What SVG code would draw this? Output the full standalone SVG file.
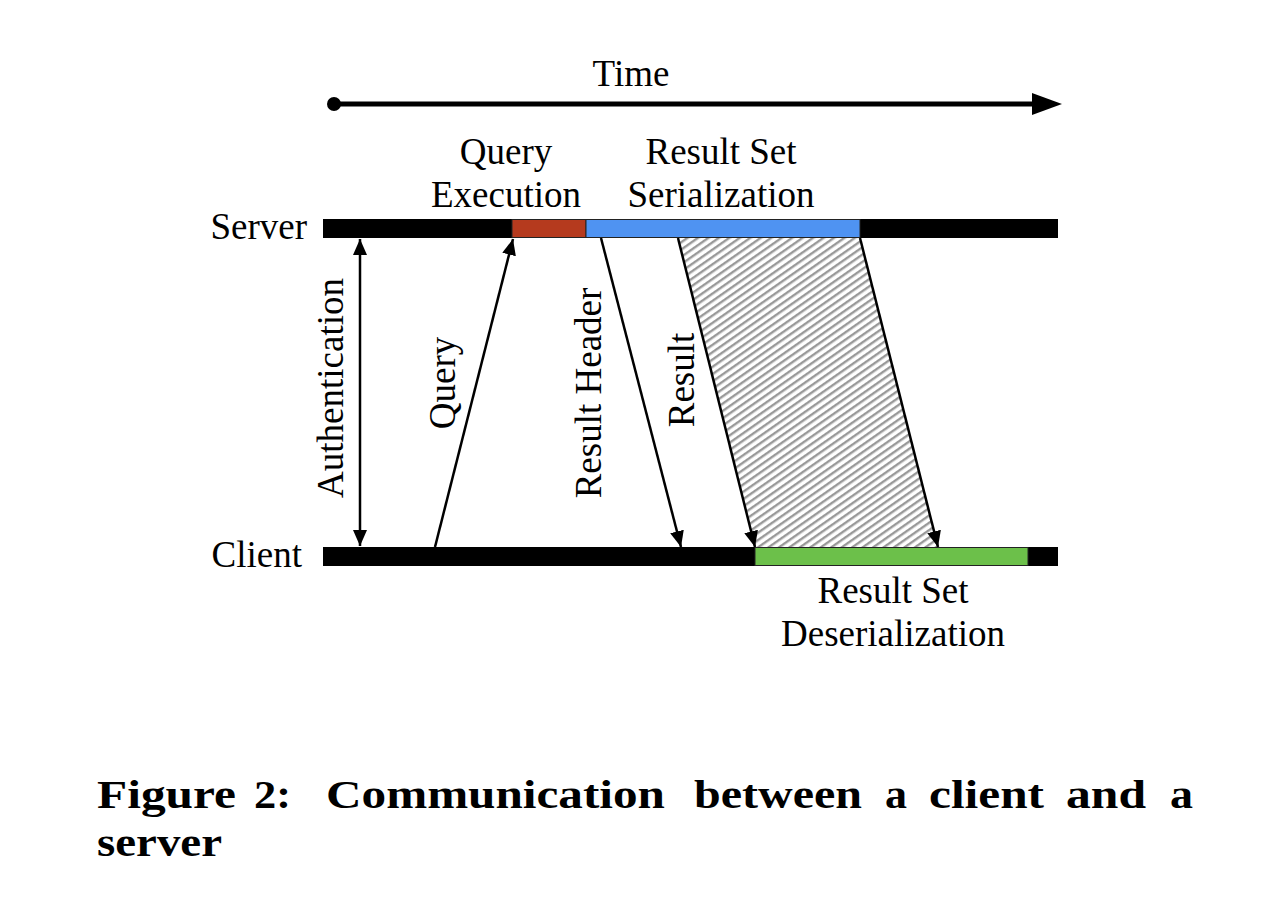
<svg xmlns="http://www.w3.org/2000/svg" width="1270" height="898" viewBox="0 0 1270 898">
<style>
.t{font-family:"Liberation Serif","Times New Roman",serif;font-size:37px;fill:#000}
.c{font-family:"Liberation Serif","Times New Roman",serif;font-size:39px;font-weight:bold;fill:#000}
.ln{stroke:#000;stroke-width:2.5;fill:none}
</style>
<defs>
<marker id="ah" viewBox="0 0 16 14" refX="16" refY="7" markerWidth="16" markerHeight="14" markerUnits="userSpaceOnUse" orient="auto-start-reverse">
<path d="M0,0 L16,7 L0,14 Z" fill="#000"/>
</marker>
<pattern id="hatch" width="6" height="6" patternUnits="userSpaceOnUse" patternTransform="rotate(-35)">
<rect width="6" height="6" fill="#fff"/>
<rect y="0" width="6" height="2.4" fill="#999"/>
</pattern>
</defs>
<rect width="1270" height="898" fill="#fff"/>

<g id="time">
<circle cx="334" cy="104" r="7" fill="#000"/>
<line x1="334" y1="104" x2="1036" y2="104" stroke="#000" stroke-width="5"/>
<path d="M1032,93 L1062,104 L1032,115 Z" fill="#000"/>
<text class="t" x="631" y="86" text-anchor="middle">Time</text>
</g>

<g id="server">
<rect x="323" y="219" width="735" height="19" fill="#000"/>
<rect x="512" y="219.5" width="74" height="18" fill="#b53a1e" stroke="#222" stroke-width="1"/>
<rect x="586" y="219.5" width="274" height="18" fill="#4f93f2" stroke="#222" stroke-width="1"/>
<text class="t" x="307" y="239" text-anchor="end">Server</text>
</g>

<g id="client">
<rect x="323" y="547" width="735" height="19" fill="#000"/>
<rect x="755" y="547.5" width="273" height="18" fill="#6cc04a" stroke="#222" stroke-width="1"/>
<text class="t" x="302" y="567" text-anchor="end">Client</text>
</g>

<g id="query-execution">
<text class="t" x="506" y="164" text-anchor="middle">Query</text>
<text class="t" x="506" y="207" text-anchor="middle">Execution</text>
</g>

<g id="serialization">
<text class="t" x="721" y="164" text-anchor="middle">Result Set</text>
<text class="t" x="721" y="207" text-anchor="middle">Serialization</text>
</g>

<g id="deserialization">
<text class="t" x="893" y="603" text-anchor="middle">Result Set</text>
<text class="t" x="893" y="646" text-anchor="middle">Deserialization</text>
</g>

<g id="result-band">
<polygon points="678,238 860,238 938,547 755,547" fill="url(#hatch)"/>
</g>

<g id="connectors">
<line class="ln" x1="360" y1="239" x2="360" y2="546" marker-start="url(#ah)" marker-end="url(#ah)"/>
<line class="ln" x1="435" y1="547" x2="513" y2="239" marker-end="url(#ah)"/>
<line class="ln" x1="601" y1="238" x2="681" y2="547" marker-end="url(#ah)"/>
<line class="ln" x1="678" y1="238" x2="755" y2="547" marker-end="url(#ah)"/>
<line class="ln" x1="860" y1="238" x2="938" y2="547" marker-end="url(#ah)"/>
</g>

<g id="labels">
<text class="t" transform="translate(343,388) rotate(-90)" text-anchor="middle">Authentication</text>
<text class="t" transform="translate(455,383) rotate(-90)" text-anchor="middle">Query</text>
<text class="t" transform="translate(601,393) rotate(-90)" text-anchor="middle">Result Header</text>
<text class="t" transform="translate(694,380) rotate(-90)" text-anchor="middle">Result</text>
</g>

<g id="caption">
<text class="c" x="97" y="808" textLength="139" lengthAdjust="spacingAndGlyphs">Figure</text>
<text class="c" x="254" y="808" textLength="37" lengthAdjust="spacingAndGlyphs">2:</text>
<text class="c" x="326" y="808" textLength="339" lengthAdjust="spacingAndGlyphs">Communication</text>
<text class="c" x="694" y="808" textLength="168" lengthAdjust="spacingAndGlyphs">between</text>
<text class="c" x="885" y="808" textLength="22" lengthAdjust="spacingAndGlyphs">a</text>
<text class="c" x="929" y="808" textLength="115" lengthAdjust="spacingAndGlyphs">client</text>
<text class="c" x="1066" y="808" textLength="80" lengthAdjust="spacingAndGlyphs">and</text>
<text class="c" x="1170" y="808" textLength="23" lengthAdjust="spacingAndGlyphs">a</text>
<text class="c" x="97" y="856" textLength="125" lengthAdjust="spacingAndGlyphs">server</text>
</g>
</svg>
